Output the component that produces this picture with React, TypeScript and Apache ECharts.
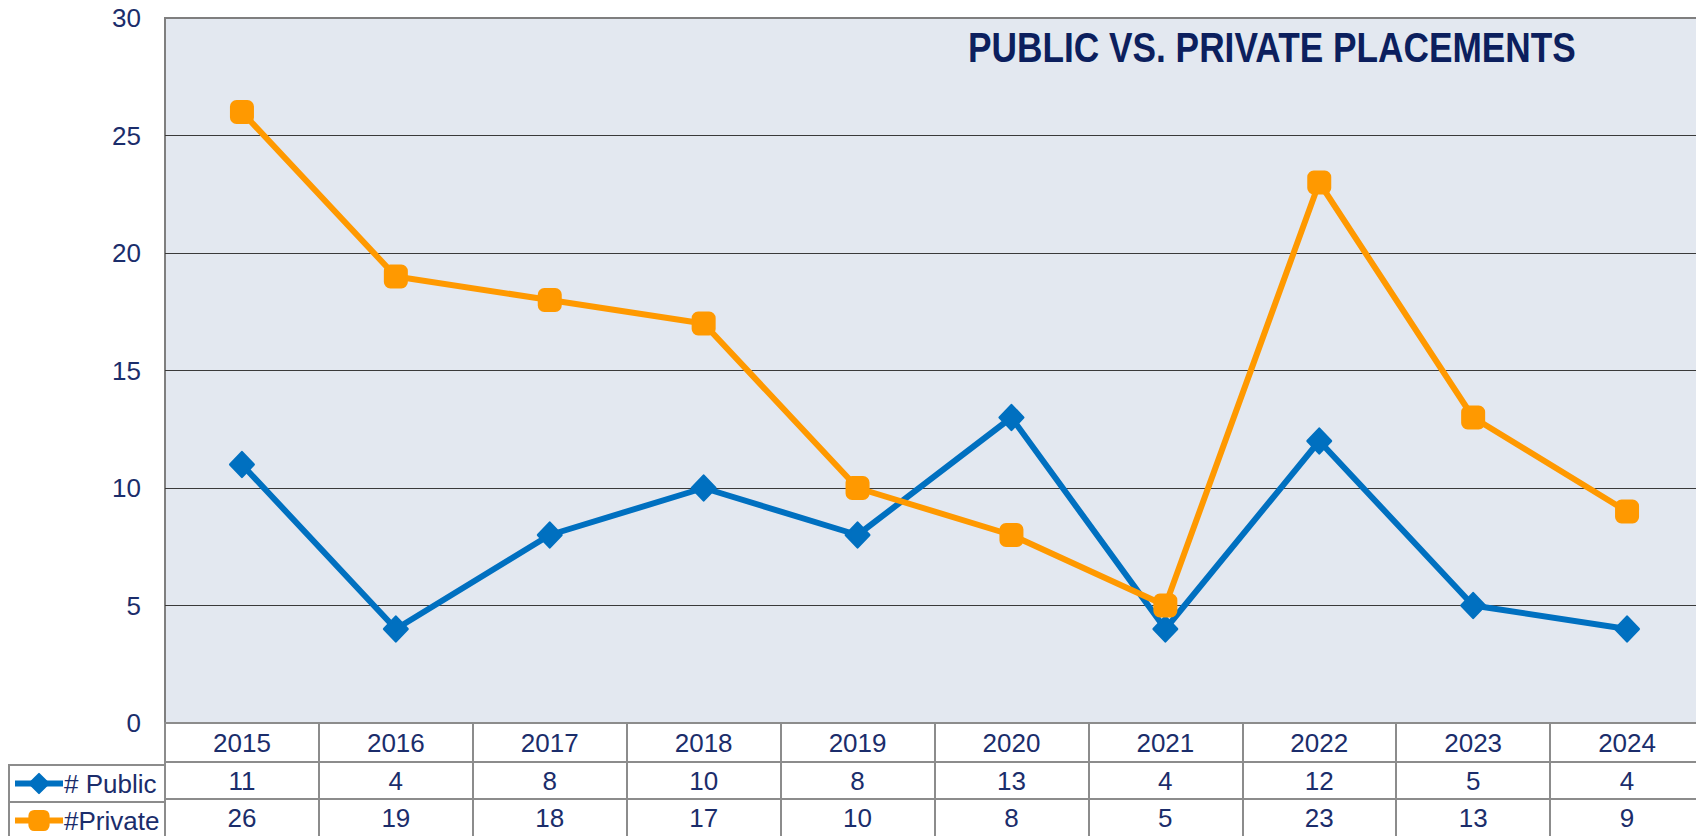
import React, { useEffect, useRef } from "react";
import * as echarts from "echarts";

const years = ["2015", "2016", "2017", "2018", "2019", "2020", "2021", "2022", "2023", "2024"];
const publicVals = [11, 4, 8, 10, 8, 13, 4, 12, 5, 4];
const privateVals = [26, 19, 18, 17, 10, 8, 5, 23, 13, 9];
const seriesNames = ["# Public", "#Private"];
const titleText = "PUBLIC VS. PRIVATE PLACEMENTS";

const FONT = "'Liberation Sans', Arial, sans-serif";
const TEXT = "#1B2D6B";
const TITLE = "#0C1F5E";
const BLUE = "#0070C0";
const ORANGE = "#FF9900";
const TABLE_LINE = "#8c8c8c";

export default function App() {
  const ref = useRef<HTMLDivElement>(null);
  useEffect(() => {
    if (!ref.current) return;
    const chart = echarts.init(ref.current, undefined, { renderer: "svg" });
    const labelBase = { fontSize: 26, color: TEXT, fontFamily: FONT, margin: 0 };
    const legendText = { fontSize: 26, color: TEXT, fontFamily: FONT, lineHeight: 37, padding: [0, 0, 0, -4] };
    const option: any = {
      animation: false,
      backgroundColor: "#ffffff",
      grid: {
        left: 165,
        top: 18,
        width: 1539,
        height: 708,
        show: true,
        backgroundColor: "#E3E8F0",
        borderColor: "#7f7f7f",
        borderWidth: 2,
      },
      legend: [
        {
          data: [seriesNames[0]],
          left: 12,
          top: 765,
          padding: 0,
          itemWidth: 48,
          itemHeight: 24,
          itemGap: 4,
          textStyle: legendText,
          lineStyle: { width: 6 },
        },
        {
          data: [seriesNames[1]],
          left: 12,
          top: 802,
          padding: 0,
          itemWidth: 48,
          itemHeight: 24,
          itemGap: 4,
          textStyle: legendText,
          lineStyle: { width: 6 },
        },
      ],
      xAxis: [
        {
          type: "category",
          data: years,
          position: "bottom",
          offset: 0,
          boundaryGap: true,
          axisLine: { show: true, lineStyle: { color: TABLE_LINE, width: 2 } },
          axisTick: { show: true, length: 113, lineStyle: { color: TABLE_LINE, width: 2 } },
          axisLabel: { ...labelBase, lineHeight: 39 },
          splitLine: { show: false },
        },
        {
          type: "category",
          data: years,
          position: "bottom",
          offset: 39,
          boundaryGap: true,
          axisLine: { show: true, lineStyle: { color: TABLE_LINE, width: 2 } },
          axisTick: { show: false },
          axisLabel: { ...labelBase, lineHeight: 37, formatter: (_v: string, i: number) => String(publicVals[i]) },
          splitLine: { show: false },
        },
        {
          type: "category",
          data: years,
          position: "bottom",
          offset: 76,
          boundaryGap: true,
          axisLine: { show: true, lineStyle: { color: TABLE_LINE, width: 2 } },
          axisTick: { show: false },
          axisLabel: { ...labelBase, lineHeight: 37, formatter: (_v: string, i: number) => String(privateVals[i]) },
          splitLine: { show: false },
        },
      ],
      yAxis: {
        type: "value",
        min: 0,
        max: 30,
        interval: 5,
        axisLine: { show: false },
        axisTick: { show: false },
        axisLabel: { fontSize: 26, color: TEXT, fontFamily: FONT, margin: 24 },
        splitLine: {
          show: true,
          lineStyle: { color: ["#7f7f7f", "#3a3a3a", "#3a3a3a", "#3a3a3a", "#3a3a3a", "#3a3a3a", "#7f7f7f"], width: 1 },
        },
      },
      series: [
        {
          name: seriesNames[0],
          type: "line",
          xAxisIndex: 0,
          data: publicVals,
          symbol: "diamond",
          symbolSize: [23, 24],
          lineStyle: { color: BLUE, width: 6 },
          itemStyle: { color: BLUE, borderColor: BLUE, borderWidth: 3, borderJoin: "round" },
          z: 2,
        },
        {
          name: seriesNames[1],
          type: "line",
          xAxisIndex: 0,
          data: privateVals,
          symbol: "roundRect",
          symbolSize: 22,
          lineStyle: { color: ORANGE, width: 6 },
          itemStyle: { color: ORANGE, borderColor: ORANGE, borderWidth: 2 },
          z: 3,
        },
      ],
      graphic: [
        {
          type: "text",
          x: 968,
          y: 47,
          scaleX: 0.82,
          style: {
            text: titleText,
            fill: TITLE,
            font: `bold 43px ${FONT}`,
            textAlign: "left",
            textVerticalAlign: "middle",
          },
          z: 10,
        },
        { type: "line", shape: { x1: 9, y1: 765, x2: 165, y2: 765 }, style: { stroke: TABLE_LINE, lineWidth: 2 } },
        { type: "line", shape: { x1: 9, y1: 802, x2: 165, y2: 802 }, style: { stroke: TABLE_LINE, lineWidth: 2 } },
        { type: "line", shape: { x1: 9, y1: 764, x2: 9, y2: 840 }, style: { stroke: TABLE_LINE, lineWidth: 2 } },
      ],
    };
    chart.setOption(option);
    return () => chart.dispose();
  }, []);
  return (
    <div style={{ position: "fixed", left: 0, top: 0, width: 1696, height: 836, overflow: "hidden", background: "#fff" }}>
      <div ref={ref} style={{ position: "absolute", left: 0, top: 0, width: 1716, height: 836 }} />
    </div>
  );
}
